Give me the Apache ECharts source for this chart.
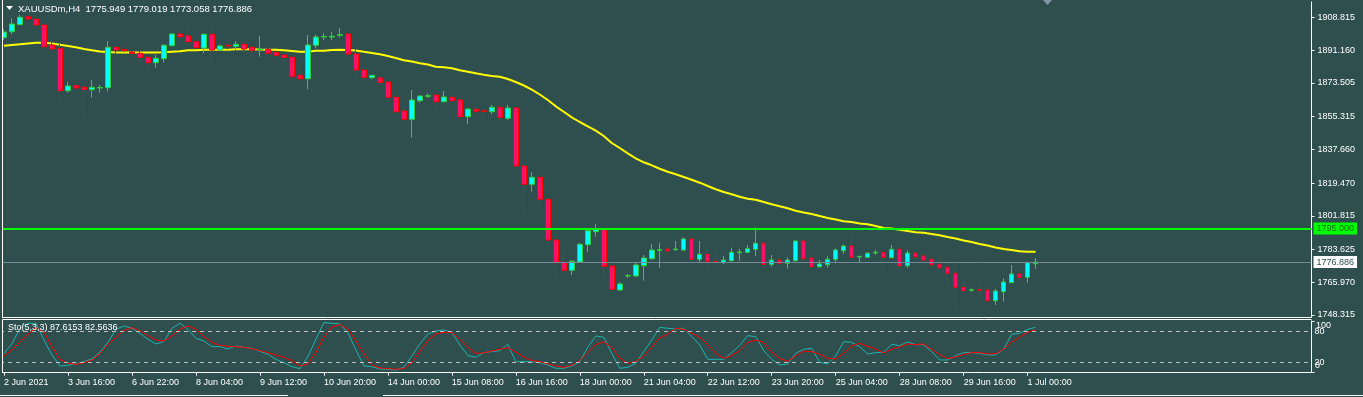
<!DOCTYPE html>
<html>
<head>
<meta charset="utf-8">
<script src="https://cdn.jsdelivr.net/npm/echarts@6/dist/echarts.min.js"></script>
<style>
  html, body { margin: 0; padding: 0; background: #2f4f4f; }
  #chart { width: 1363px; height: 397px; }
</style>
</head>
<body>
<div id="chart"></div>
<script>
// XAUUSDm H4, 2 Jun 2021 08:00 .. 1 Jul 2021 04:00 (130 bars)
const symbolName = 'XAUUSDm,H4';

const openP = [
  1897.92, 1901.05, 1904.93, 1909.14, 1907.74, 1904.66, 1893.88, 1892.10, 1869.24, 1871.94,
  1871.08, 1869.78, 1870.70, 1870.86, 1892.64, 1891.45, 1890.11, 1889.41, 1887.25, 1884.34,
  1886.49, 1893.50, 1899.81, 1898.73, 1895.66, 1892.26, 1899.65, 1891.18, 1893.72, 1893.18,
  1894.26, 1892.64, 1891.35, 1891.56, 1889.94, 1888.49, 1887.25, 1877.55, 1875.71, 1893.72,
  1898.19, 1898.19, 1899.11, 1899.81, 1889.03, 1880.40, 1876.25, 1876.09, 1873.93, 1865.69,
  1858.30, 1853.82, 1863.85, 1866.22, 1866.93, 1863.31, 1865.69, 1864.23, 1855.23, 1859.22,
  1858.41, 1857.92, 1860.29, 1854.36, 1859.92, 1828.65, 1818.78, 1822.56, 1810.70, 1788.76,
  1776.73, 1772.42, 1776.90, 1786.22, 1793.23, 1794.52, 1774.74, 1761.80, 1769.35, 1769.35,
  1774.90, 1778.67, 1783.10, 1783.90, 1783.53, 1783.36, 1789.30, 1778.35, 1781.05, 1777.27,
  1776.52, 1777.60, 1781.91, 1782.12, 1783.74, 1786.98, 1775.66, 1777.97, 1776.19, 1777.60,
  1788.22, 1779.05, 1774.36, 1775.44, 1778.35, 1782.99, 1785.52, 1779.59, 1779.43, 1781.75,
  1782.12, 1779.21, 1783.74, 1774.90, 1781.59, 1780.13, 1778.35, 1775.66, 1774.04, 1770.80,
  1763.26, 1761.64, 1761.96, 1761.80, 1756.03, 1760.88, 1765.74, 1770.43, 1768.65, 1775.949
];
const highP = [
  1902.51, 1908.27, 1910.05, 1910.05, 1909.14, 1905.20, 1898.35, 1894.42, 1874.10, 1872.59,
  1871.78, 1875.01, 1872.32, 1896.04, 1893.34, 1891.89, 1890.81, 1890.65, 1887.41, 1888.49,
  1894.42, 1900.08, 1900.19, 1903.21, 1896.95, 1900.08, 1904.12, 1894.26, 1895.12, 1896.04,
  1895.12, 1893.88, 1898.73, 1893.34, 1890.27, 1889.03, 1887.68, 1884.01, 1899.27, 1899.54,
  1900.19, 1901.05, 1903.21, 1900.35, 1891.56, 1880.67, 1877.71, 1877.71, 1874.20, 1866.39,
  1861.53, 1869.62, 1866.66, 1867.84, 1867.84, 1869.08, 1866.39, 1867.84, 1859.65, 1861.00,
  1858.57, 1861.53, 1860.46, 1861.53, 1863.15, 1830.43, 1825.25, 1822.72, 1811.78, 1790.53,
  1782.29, 1777.70, 1787.14, 1794.52, 1797.38, 1794.69, 1776.52, 1766.11, 1770.43, 1776.52,
  1780.67, 1786.60, 1787.30, 1785.52, 1788.22, 1790.21, 1789.67, 1788.22, 1783.74, 1783.74,
  1780.13, 1784.60, 1783.90, 1786.06, 1795.60, 1787.84, 1780.67, 1780.67, 1779.43, 1788.49,
  1789.13, 1780.13, 1777.97, 1780.13, 1784.28, 1786.22, 1790.91, 1780.13, 1782.29, 1783.36,
  1782.29, 1786.06, 1783.90, 1783.36, 1781.75, 1780.40, 1778.51, 1779.43, 1774.20, 1776.52,
  1766.65, 1762.72, 1765.41, 1763.26, 1762.34, 1768.11, 1775.28, 1771.13, 1777.06, 1779.019
];
const lowP = [
  1896.58, 1899.81, 1904.39, 1907.36, 1904.12, 1890.27, 1891.18, 1863.31, 1868.16, 1870.16,
  1855.60, 1865.47, 1868.16, 1868.70, 1888.49, 1890.11, 1888.49, 1884.88, 1880.94, 1881.64,
  1884.34, 1893.34, 1898.19, 1894.80, 1892.10, 1889.41, 1883.10, 1890.65, 1891.56, 1891.18,
  1889.41, 1887.25, 1887.57, 1888.49, 1887.95, 1884.01, 1876.47, 1875.01, 1870.00, 1892.10,
  1896.58, 1896.58, 1898.03, 1887.25, 1875.39, 1873.77, 1875.39, 1873.23, 1862.77, 1856.52,
  1852.53, 1843.91, 1862.77, 1865.31, 1858.46, 1862.99, 1862.77, 1855.07, 1851.29, 1857.06,
  1852.91, 1856.68, 1852.53, 1853.45, 1827.41, 1803.47, 1814.79, 1804.93, 1785.90, 1767.57,
  1769.73, 1769.89, 1776.36, 1782.29, 1790.53, 1769.35, 1761.80, 1761.42, 1768.11, 1768.81,
  1766.81, 1777.97, 1773.82, 1781.91, 1782.99, 1782.83, 1777.97, 1776.52, 1772.96, 1776.19,
  1775.82, 1777.06, 1777.60, 1781.59, 1780.13, 1773.50, 1774.36, 1774.36, 1773.28, 1777.06,
  1776.19, 1774.04, 1773.82, 1773.82, 1776.19, 1781.21, 1779.05, 1776.52, 1779.21, 1780.67,
  1770.80, 1778.89, 1774.04, 1773.66, 1778.35, 1776.90, 1774.90, 1772.58, 1764.50, 1751.02,
  1760.35, 1760.88, 1759.11, 1755.87, 1753.71, 1755.49, 1765.57, 1767.19, 1765.74, 1773.058
];
const closeP = [
  1900.89, 1905.20, 1908.81, 1907.90, 1904.66, 1892.96, 1891.72, 1869.24, 1871.78, 1870.70,
  1870.00, 1871.08, 1870.97, 1892.64, 1891.18, 1890.92, 1889.30, 1887.25, 1884.34, 1886.71,
  1893.72, 1899.81, 1898.35, 1895.66, 1892.42, 1899.65, 1891.18, 1893.34, 1893.34, 1894.26,
  1891.72, 1891.02, 1891.72, 1889.41, 1888.33, 1887.25, 1876.79, 1875.71, 1893.88, 1898.19,
  1898.46, 1898.57, 1899.43, 1889.03, 1880.40, 1876.47, 1877.55, 1873.77, 1865.69, 1857.92,
  1853.82, 1864.23, 1866.39, 1866.55, 1863.31, 1865.85, 1863.85, 1855.23, 1859.38, 1858.14,
  1858.14, 1860.29, 1854.90, 1859.92, 1828.65, 1818.78, 1822.56, 1810.70, 1788.76, 1776.52,
  1772.42, 1777.27, 1786.44, 1793.77, 1794.85, 1774.58, 1762.18, 1765.04, 1769.62, 1775.28,
  1779.05, 1783.36, 1783.53, 1782.83, 1783.90, 1789.30, 1778.35, 1781.05, 1777.27, 1776.90,
  1777.97, 1782.12, 1782.29, 1784.07, 1786.98, 1775.66, 1777.97, 1776.19, 1777.97, 1788.22,
  1778.67, 1774.36, 1775.82, 1778.35, 1783.36, 1785.52, 1779.43, 1779.97, 1781.59, 1782.12,
  1779.43, 1783.74, 1774.90, 1781.75, 1779.75, 1777.97, 1775.44, 1773.82, 1770.80, 1763.26,
  1761.42, 1761.96, 1761.64, 1756.03, 1761.26, 1766.11, 1770.43, 1768.65, 1776.52, 1776.886
];
// yellow moving average
const maLine = [
  1893.50, 1893.88, 1894.26, 1894.69, 1895.12, 1895.12, 1894.69, 1894.04, 1893.34, 1892.64,
  1891.72, 1891.02, 1890.38, 1890.11, 1889.84, 1889.84, 1889.84, 1889.84, 1889.84, 1889.84,
  1889.94, 1890.27, 1890.48, 1891.02, 1891.02, 1891.35, 1891.35, 1891.35, 1891.35, 1891.56,
  1891.56, 1891.56, 1891.45, 1891.35, 1891.35, 1891.02, 1890.65, 1890.27, 1890.27, 1890.81,
  1890.81, 1891.18, 1891.29, 1891.24, 1890.92, 1890.27, 1889.57, 1888.87, 1887.95, 1886.87,
  1885.63, 1884.99, 1884.01, 1883.37, 1882.18, 1881.86, 1881.32, 1880.24, 1879.49, 1878.62,
  1877.87, 1877.17, 1876.79, 1875.55, 1873.93, 1872.05, 1869.78, 1867.19, 1864.23, 1860.83,
  1857.92, 1854.90, 1852.37, 1850.05, 1847.68, 1844.82, 1841.05, 1838.35, 1835.50, 1832.80,
  1830.64, 1829.03, 1827.19, 1825.58, 1824.17, 1822.72, 1821.26, 1819.65, 1817.87, 1816.09,
  1814.63, 1813.39, 1812.10, 1811.02, 1810.48, 1809.24, 1808.00, 1806.92, 1805.85, 1804.55,
  1803.58, 1802.77, 1801.69, 1800.62, 1799.81, 1798.84, 1798.46, 1797.65, 1797.22, 1796.30,
  1795.23, 1794.96, 1794.31, 1793.61, 1792.91, 1792.69, 1791.99, 1791.29, 1790.37, 1789.56,
  1788.49, 1787.68, 1786.60, 1785.79, 1784.71, 1783.90, 1783.36, 1782.66, 1782.45, 1782.45
];
// Stochastic(5,3,3): main and signal
const stochMain = [
  37.4, 56, 85.8, 95.5, 95.5, 63.2, 34.2, 12.9, 14.2, 16.8,
  21.3, 26.5, 39.4, 58.7, 83.9, 90.3, 85.8, 76.1, 64.5, 55.5,
  60, 85.8, 95.5, 83.9, 66.5, 61.3, 50.3, 50.3, 45.8, 51.6,
  49, 47.1, 41.3, 35.5, 25.8, 19.4, 11.6, 7.8, 31, 64.5,
  96.8, 95.5, 94.2, 77.4, 43.9, 12.9, 11.6, 7.1, 6.5, 5.2,
  10.3, 32.3, 55.5, 74.8, 80.6, 82.6, 78.1, 53.6, 32.9, 29.7,
  38.7, 40.7, 42.6, 54.8, 21.3, 21.3, 21.3, 19.4, 14.8, 8.4,
  8.4, 12.9, 21.3, 49, 71, 68.4, 37.4, 8.4, 10.3, 18.1,
  40.7, 63.2, 87.7, 85.8, 84.5, 85.8, 69.7, 53.6, 25.8, 25.8,
  25.8, 38.7, 52.9, 71.6, 69.7, 42.6, 25.8, 14.8, 16.8, 37.4,
  45.2, 47.1, 20, 16.8, 32.3, 60, 58.7, 50.3, 36.1, 38.7,
  39.5, 54.8, 52.3, 59.4, 54.2, 54.2, 40.7, 24.5, 24.5, 32.9,
  38.7, 38.7, 37.4, 34.2, 34.2, 45.2, 74.2, 76.1, 83.9, 87.6153
];
const stochSignal = [
  32.3, 43.9, 59.4, 74.2, 87.1, 78.7, 50.3, 25.8, 18.1, 16.1,
  19.4, 24.5, 37.4, 54.8, 68.4, 81.3, 87.1, 81.3, 71.6, 63.2,
  61.3, 71, 83.9, 90.3, 83.9, 69.7, 58.7, 52.9, 51, 50.3,
  49, 46.5, 42.6, 38.7, 34.2, 29.7, 23.2, 12.9, 16.8, 38.7,
  68.4, 87.7, 92.9, 84.5, 61.9, 37.4, 14.8, 9, 7.8, 6.5,
  7.8, 19.4, 40.7, 61.9, 74.8, 78.1, 78.1, 64.5, 49, 37.4,
  38.1, 41.9, 45.2, 48.4, 40, 30.3, 23.2, 21.3, 16.8, 12.9,
  10.3, 14.2, 23.2, 38.7, 54.2, 60, 48.4, 27.7, 18.1, 21.3,
  32.3, 49, 67.1, 74.2, 85.8, 83.9, 76.1, 68.4, 54.2, 37.4,
  27.7, 32.9, 42.6, 58.1, 63.2, 58.1, 40, 27.1, 21.9, 32.3,
  41.3, 40.7, 35.5, 27.7, 26.5, 37.4, 51.6, 56.8, 51, 45.8,
  38, 45.2, 49.7, 55.5, 54.2, 55.5, 45.2, 34.8, 27.1, 30.3,
  34.8, 38.7, 38.7, 36.1, 36.8, 45.2, 59.4, 68.4, 78.1, 82.5636
];
// time scale labels, one every 8 bars
const timeLabels = [
  '2 Jun 2021', '3 Jun 16:00', '6 Jun 22:00', '8 Jun 04:00', '9 Jun 12:00',
  '10 Jun 20:00', '14 Jun 00:00', '15 Jun 08:00', '16 Jun 16:00', '18 Jun 00:00',
  '21 Jun 04:00', '22 Jun 12:00', '23 Jun 20:00', '25 Jun 04:00', '28 Jun 08:00',
  '29 Jun 16:00', '1 Jul 00:00'
];
const priceTicks = [1908.815, 1891.160, 1873.505, 1855.315, 1837.660, 1819.470, 1801.815, 1783.625, 1765.970, 1748.315];
const stochLevels = [20, 80];
const levelPrice = 1795.0;
const lastPrice = closeP[closeP.length - 1];

const BG = '#2f4f4f';
const FG = '#ffffff';
const FONT = 'Liberation Sans';
const SLOTS = 164; // bars + chart shift space
const slots = Array.from({ length: SLOTS }, (_, i) => String(i));
const candles = openP.map((o, i) => [o, closeP[i], lowP[i], highP[i]]);
const isLabelSlot = (i) => i % 8 === 0 && i / 8 < timeLabels.length;
const last = openP.length - 1;

const chart = echarts.init(document.getElementById('chart'));

const priceTag = (value, bg, fg) => ({
  show: true, position: 'end', distance: 2,
  formatter: () => value.toFixed(3),
  backgroundColor: bg, color: fg, padding: [2, 3, 1, 3],
  fontFamily: FONT, fontSize: 9
});

const option = {
  backgroundColor: BG,
  animation: false,
  textStyle: { fontFamily: FONT },
  grid: [
    { left: -0.5, right: 51.5, top: 2, height: 315 },
    { left: -0.5, right: 51.5, top: 320.97, height: 51.66 }
  ],
  xAxis: [
    {
      type: 'category', gridIndex: 0, data: slots, boundaryGap: true,
      axisLine: { show: true, lineStyle: { color: FG } },
      axisTick: { show: false }, axisLabel: { show: false }, splitLine: { show: false }
    },
    {
      type: 'category', gridIndex: 1, data: slots, boundaryGap: true,
      axisLine: { show: true, lineStyle: { color: FG } },
      axisTick: { show: true, alignWithLabel: true, length: 3, interval: (i) => isLabelSlot(i), lineStyle: { color: FG } },
      axisLabel: {
        interval: (i) => isLabelSlot(i), align: 'left', margin: 5,
        color: FG, fontFamily: FONT, fontSize: 9,
        formatter: (v) => timeLabels[Number(v) / 8] || ''
      },
      splitLine: { show: false }
    }
  ],
  yAxis: [
    {
      type: 'value', gridIndex: 0, position: 'right', min: 1747.245, max: 1917.063,
      axisLine: { show: true, lineStyle: { color: FG } },
      axisTick: { show: true, length: 3, customValues: priceTicks, lineStyle: { color: FG } },
      axisLabel: {
        customValues: priceTicks, margin: 6, color: FG, fontFamily: FONT, fontSize: 9,
        formatter: (v) => v.toFixed(3)
      },
      splitLine: { show: false }
    },
    {
      type: 'value', gridIndex: 1, position: 'right', min: 0, max: 100,
      axisLine: { show: true, lineStyle: { color: FG } },
      axisTick: { show: true, length: 3, customValues: [0, 100], lineStyle: { color: FG } },
      axisLabel: {
        customValues: stochLevels, margin: 3, color: FG, fontFamily: FONT, fontSize: 9
      },
      splitLine: { show: false }
    }
  ],
  series: [
    {
      name: 'MA', type: 'line', xAxisIndex: 0, yAxisIndex: 0, data: maLine,
      symbol: 'none', silent: true, z: 2,
      lineStyle: { color: '#ffff00', width: 2 }
    },
    {
      name: symbolName, type: 'candlestick', xAxisIndex: 0, yAxisIndex: 0, data: candles,
      barWidth: 5, z: 3,
      itemStyle: {
        color: '#00ffff', color0: '#ff1166',
        borderColor: '#32cd32', borderColor0: '#ff0000', borderWidth: 1
      },
      markLine: {
        silent: true, symbol: ['none', 'none'], precision: 3,
        data: [
          {
            yAxis: levelPrice,
            lineStyle: { color: '#00ff00', width: 2, type: 'solid' },
            label: priceTag(levelPrice, '#00ff00', '#0b6b0b')
          },
          {
            yAxis: lastPrice,
            lineStyle: { color: '#778899', width: 1, type: 'solid' },
            label: priceTag(lastPrice, '#ffffff', '#2f4f4f')
          }
        ]
      }
    },
    {
      name: 'Sto main', type: 'line', xAxisIndex: 1, yAxisIndex: 1, data: stochMain,
      symbol: 'none', silent: true, z: 3,
      lineStyle: { color: '#20b2aa', width: 1 },
      markLine: {
        silent: true, symbol: ['none', 'none'], label: { show: false },
        lineStyle: { color: '#c0c0c0', width: 1, type: [4, 4] },
        data: stochLevels.map((v) => ({ yAxis: v }))
      }
    },
    {
      name: 'Sto signal', type: 'line', xAxisIndex: 1, yAxisIndex: 1, data: stochSignal,
      symbol: 'none', silent: true, z: 4,
      lineStyle: { color: '#ff0000', width: 1 }
    }
  ],
  graphic: [
    // left edge mask and pane frames
    { type: 'rect', z: 100, shape: { x: 0, y: 0, width: 2, height: 374 }, style: { fill: BG } },
    { type: 'line', z: 101, shape: { x1: 2.5, y1: 0, x2: 2.5, y2: 317 }, style: { stroke: FG, lineWidth: 1 } },
    { type: 'line', z: 101, shape: { x1: 2.5, y1: 319.5, x2: 1311.5, y2: 319.5 }, style: { stroke: FG, lineWidth: 1 } },
    { type: 'line', z: 101, shape: { x1: 2.5, y1: 319.5, x2: 2.5, y2: 373 }, style: { stroke: FG, lineWidth: 1 } },
    // stochastic scale ends (MT4 draws them off-centre)
    { type: 'text', z: 101, x: 1316, y: 326, style: { text: '100', fill: FG, font: '9px "Liberation Sans"', verticalAlign: 'middle' } },
    { type: 'text', z: 101, x: 1315, y: 366, style: { text: '0', fill: FG, font: '9px "Liberation Sans"', verticalAlign: 'middle' } },
    // header
    { type: 'polygon', z: 101, shape: { points: [[6, 6], [13, 6], [9.5, 10]] }, style: { fill: FG } },
    {
      type: 'text', z: 101, x: 18, y: 9,
      style: {
        text: symbolName + '  ' + [openP[last], highP[last], lowP[last], closeP[last]].map((v) => v.toFixed(3)).join(' '),
        fill: FG, font: '9.5px "Liberation Sans"', verticalAlign: 'middle'
      }
    },
    {
      type: 'text', z: 101, x: 8, y: 328,
      style: {
        text: 'Sto(5,3,3) ' + stochMain[last].toFixed(4) + ' ' + stochSignal[last].toFixed(4),
        fill: FG, font: '9px "Liberation Sans"', verticalAlign: 'middle'
      }
    },
    // chart shift marker
    { type: 'polygon', z: 101, shape: { points: [[1043, 0], [1052, 0], [1047.5, 5]] }, style: { fill: '#8494a6' } },
    // bottom strip
    { type: 'line', z: 101, shape: { x1: 0, y1: 395.5, x2: 288, y2: 395.5 }, style: { stroke: FG, lineWidth: 1 } },
    { type: 'line', z: 101, shape: { x1: 383, y1: 395.5, x2: 1363, y2: 395.5 }, style: { stroke: FG, lineWidth: 1 } }
  ]
};

chart.setOption(option);
</script>
</body>
</html>
